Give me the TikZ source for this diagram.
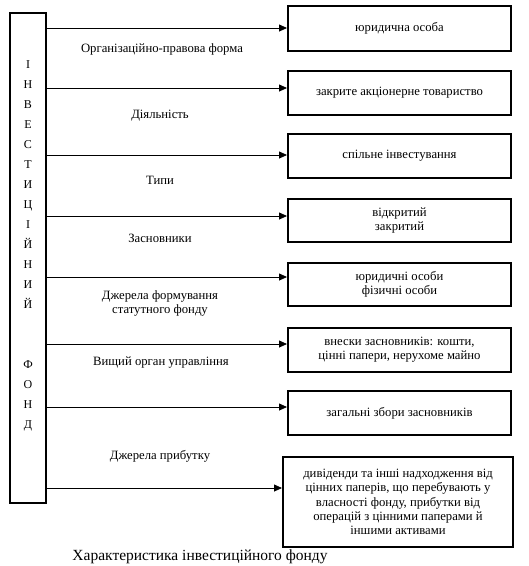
\documentclass[tikz,border=0pt]{standalone}
\usepackage{fontspec}
\setmainfont{Liberation Serif}
\usetikzlibrary{arrows.meta,calc}
\begin{document}
\begin{tikzpicture}[x=1pt,y=-1pt,
        item/.style={draw,line width=2pt,minimum width=223pt,minimum height=44pt,anchor=west,align=center,inner sep=2pt,font=\fontsize{12.7}{14.3}\selectfont},
        lab/.style={align=center,font=\fontsize{12.7}{13.5}\selectfont},
        arr/.style={-{Triangle[length=8pt,width=7pt]},line width=0.8pt}]
        \useasboundingbox (0,0) rectangle (529,566);

        \node[draw,line width=2pt,minimum width=36pt,minimum height=490pt,anchor=north] (fund) at (28,12) {};
        \node[align=center,font=\fontsize{12}{20}\selectfont] (letters) at (28,246) {І\\Н\\В\\Е\\С\\Т\\И\\Ц\\І\\Й\\Н\\И\\Й\\[40pt]Ф\\О\\Н\\Д};

        \node[item,minimum height=45pt] (legal)    at (287, 28.5) {юридична особа};
        \node[item] (closed)   at (287, 93  ) {закрите акціонерне товариство};
        \node[item] (joint)    at (287,156  ) {спільне інвестування};
        \node[item,minimum height=43pt] (kind)     at (287,220.5) {відкритий\\закритий};
        \node[item,minimum height=43pt] (founders) at (287,284.5) {юридичні особи\\фізичні особи};
        \node[item] (capital)  at (287,350  ) {внески засновників: кошти,\\цінні папери, нерухоме майно};
        \node[item] (board)    at (287,413  ) {загальні збори засновників};
        \node[item,minimum width=230pt,minimum height=90pt] (profit) at (282,502) {дивіденди та інші надходження від\\цінних паперів, що перебувають у\\власності фонду, прибутки від\\операцій з цінними паперами й\\іншими активами};

        \node[lab] (lform)  at (162, 49  ) {Організаційно-правова форма};
        \node[lab] (lact)   at (160,116  ) {Діяльність};
        \node[lab] (ltype)  at (160,180  ) {Типи};
        \node[lab] (lfound) at (160,238  ) {Засновники};
        \node[lab] (lsrc)   at (160,303.5) {Джерела формування\\статутного фонду};
        \node[lab] (lgov)   at (161,363  ) {Вищий орган управління};
        \node[lab] (lprof)  at (160,456  ) {Джерела прибутку};

        \foreach \b/\d in {legal/-0.5,closed/-5,joint/-1,kind/-4.5,founders/-7.5,capital/-6,board/-6,profit/-14}
            \draw[arr] ($(fund.east |- \b.west)+(0,\d)$) -- ($(\b.west)+(0,\d)$);

        \node[font=\fontsize{15.5}{18}\selectfont] (caption) at (200,557) {Характеристика інвестиційного фонду};
    \end{tikzpicture}
\end{document}
